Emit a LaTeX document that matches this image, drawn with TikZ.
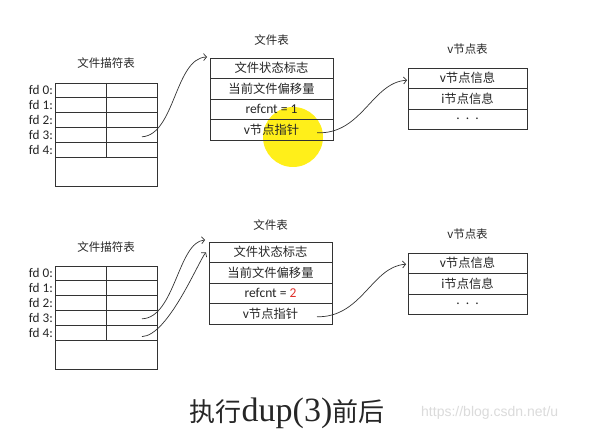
\documentclass[tikz,border=0pt]{standalone}
\usepackage{fontspec}
\setmainfont{Carlito}[Scale=1.1]
\newfontfamily\cjk{Noto Sans CJK SC}
\newfontfamily\capfont{Liberation Serif}
\newfontfamily\wmfont{Liberation Sans}
\usetikzlibrary{positioning, arrows.meta}
\definecolor{linecol}{HTML}{333333}
\definecolor{hilite}{HTML}{FFEF1A}
\definecolor{refred}{HTML}{E0302A}

\begin{document}
\begin{tikzpicture}[x=1pt, y=-1pt,
    cell/.style={rectangle, draw=linecol, line width=0.8pt, outer sep=0pt, inner sep=0pt, anchor=north west, text=black!85, font=\fontsize{12.3}{13}\selectfont},
    fdrow/.style={cell, minimum width=102pt, minimum height=14.8pt},
    fdrest/.style={cell, minimum width=102pt, minimum height=29pt},
    frow/.style={cell, minimum width=123pt, minimum height=20.5pt},
    vrow/.style={cell, minimum width=119pt, minimum height=20.5pt},
    ttl/.style={font=\cjk\fontsize{11.5}{12}\selectfont, text=black!85, inner sep=0pt},
    fdlbl/.style={font=\fontsize{12}{12}\selectfont, text=black!85, inner sep=0pt},
    arr/.style={-{Straight Barb[length=3pt, width=7pt]}, line width=0.7pt, draw=linecol},
  ]
  \fill[white] (0,0) rectangle (592,441);
  \useasboundingbox (0,0) rectangle (592,441);

  % before dup(3)
  \fill[hilite] (293,137) circle[radius=30];

  \node[fdrow] (a0) at (55,83) {};
  \node[fdrow, below=0pt of a0] (a1) {};
  \node[fdrow, below=0pt of a1] (a2) {};
  \node[fdrow, below=0pt of a2] (a3) {};
  \node[fdrow, below=0pt of a3] (a4) {};
  \node[fdrest, below=0pt of a4] (a5) {};
  \draw[linecol, line width=0.8pt] (a0.north) -- (a4.south);
  \node[ttl, above=14pt of a0] (afdt) {文件描符表};
  \node[fdlbl, left=2pt of a0] (al0) {fd 0:};
  \node[fdlbl, left=2pt of a1] (al1) {fd 1:};
  \node[fdlbl, left=2pt of a2] (al2) {fd 2:};
  \node[fdlbl, left=2pt of a3] (al3) {fd 3:};
  \node[fdlbl, left=2pt of a4] (al4) {fd 4:};

  \node[frow] (af1) at (210,58) {\cjk 文件状态标志};
  \node[frow, below=0pt of af1] (af2) {\cjk 当前文件偏移量};
  \node[frow, below=0pt of af2] (af3) {refcnt = 1};
  \node[frow, below=0pt of af3] (af4) {v\cjk 节点指针};
  \node[ttl, above=12pt of af1] (aft) {文件表};

  \node[vrow] (av1) at (408,68) {v\cjk 节点信息};
  \node[vrow, below=0pt of av1] (av2) {i\cjk 节点信息};
  \node[vrow, below=0pt of av2] (av3) {.\ \ .\ \ .};
  \node[ttl, above=13pt of av1] (avt) {v节点表};

  \draw[arr] ([xshift=-15pt, yshift=-2pt]a3.east) .. controls +(33,-2) and +(-32,1) .. ([xshift=-3pt, yshift=1pt]af1.north west);
  \draw[arr] ([xshift=-16pt, yshift=-3pt]af4.east) .. controls +(45,2) and +(-35,2) .. ([xshift=-1pt, yshift=-2pt]av1.west);

  % after dup(3)
  \node[fdrow] (b0) at (55,266) {};
  \node[fdrow, below=0pt of b0] (b1) {};
  \node[fdrow, below=0pt of b1] (b2) {};
  \node[fdrow, below=0pt of b2] (b3) {};
  \node[fdrow, below=0pt of b3] (b4) {};
  \node[fdrest, below=0pt of b4] (b5) {};
  \draw[linecol, line width=0.8pt] (b0.north) -- (b4.south);
  \node[ttl, above=13.5pt of b0] (bfdt) {文件描符表};
  \node[fdlbl, left=2pt of b0] (bl0) {fd 0:};
  \node[fdlbl, left=2pt of b1] (bl1) {fd 1:};
  \node[fdlbl, left=2pt of b2] (bl2) {fd 2:};
  \node[fdlbl, left=2pt of b3] (bl3) {fd 3:};
  \node[fdlbl, left=2pt of b4] (bl4) {fd 4:};

  \node[frow] (bf1) at (209,242) {\cjk 文件状态标志};
  \node[frow, below=0pt of bf1] (bf2) {\cjk 当前文件偏移量};
  \node[frow, below=0pt of bf2] (bf3) {refcnt = {\color{refred}2}};
  \node[frow, below=0pt of bf3] (bf4) {v\cjk 节点指针};
  \node[ttl, above=11.5pt of bf1] (bft) {文件表};

  \node[vrow] (bv1) at (408,253) {v\cjk 节点信息};
  \node[vrow, below=0pt of bv1] (bv2) {i\cjk 节点信息};
  \node[vrow, below=0pt of bv2] (bv3) {.\ \ .\ \ .};
  \node[ttl, above=13.5pt of bv1] (bvt) {v节点表};

  \draw[arr] ([xshift=-15pt, yshift=-1pt]b3.east) .. controls +(33,-1) and +(-27,2) .. ([xshift=-4pt, yshift=2pt]bf1.north west);
  \draw[arr] ([xshift=-15pt, yshift=-4pt]b4.east) .. controls +(26,-1) and +(-8,10) .. ([xshift=-3pt]bf1.west);
  \draw[arr] ([xshift=-15pt, yshift=-3pt]bf4.east) .. controls +(45,1) and +(-34,2) .. ([xshift=-2pt, yshift=-1pt]bv1.west);

  % caption
  \node[font=\cjk\fontsize{26}{28}\selectfont, text=black!85] (cap) at (287,413) {执行{\capfont\fontsize{34}{34}\selectfont dup(3)}前后};
  \node[font=\wmfont\fontsize{14}{14}\selectfont, text=black!14, anchor=west, inner sep=0pt] (wm) at (421,413) {https://blog.csdn.net/u};
\end{tikzpicture}
\end{document}
